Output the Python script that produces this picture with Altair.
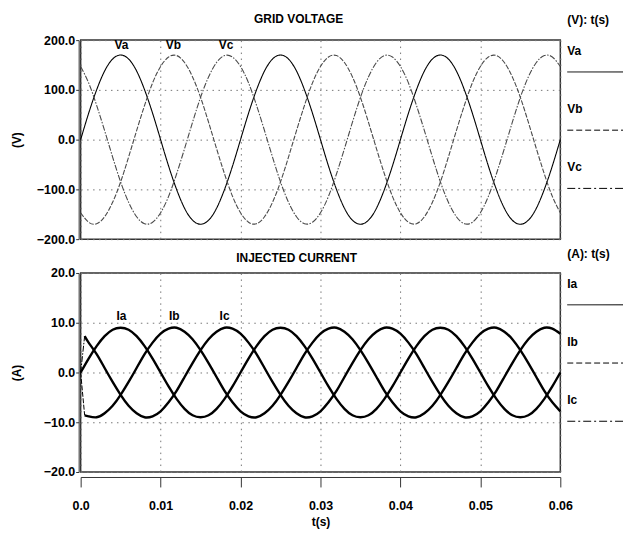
import altair as alt
import pandas as pd

FONT = "Liberation Sans"

# time axis in milliseconds (axis labels shown in seconds)
T_MS = [0, 1, 2, 3, 4, 5, 6, 7, 8, 9, 10, 11, 12, 13, 14, 15, 16, 17, 18, 19,
        20, 21, 22, 23, 24, 25, 26, 27, 28, 29, 30, 31, 32, 33, 34, 35, 36, 37, 38, 39,
        40, 41, 42, 43, 44, 45, 46, 47, 48, 49, 50, 51, 52, 53, 54, 55, 56, 57, 58, 59, 60]

VA = [0, 53, 100, 138, 162, 170, 162, 138, 100, 53, 0, -53, -100, -138, -162, -170, -162, -138, -100, -53,
      0, 53, 100, 138, 162, 170, 162, 138, 100, 53, 0, -53, -100, -138, -162, -170, -162, -138, -100, -53,
      0, 53, 100, 138, 162, 170, 162, 138, 100, 53, 0, -53, -100, -138, -162, -170, -162, -138, -100, -53, 0]
VB = [-147, -166, -169, -155, -126, -85, -35, 18, 69, 114, 147, 166, 169, 155, 126, 85, 35, -18, -69, -114,
      -147, -166, -169, -155, -126, -85, -35, 18, 69, 114, 147, 166, 169, 155, 126, 85, 35, -18, -69, -114,
      -147, -166, -169, -155, -126, -85, -35, 18, 69, 114, 147, 166, 169, 155, 126, 85, 35, -18, -69, -114, -147]
VC = [147, 114, 69, 18, -35, -85, -126, -155, -169, -166, -147, -114, -69, -18, 35, 85, 126, 155, 169, 166,
      147, 114, 69, 18, -35, -85, -126, -155, -169, -166, -147, -114, -69, -18, 35, 85, 126, 155, 169, 166,
      147, 114, 69, 18, -35, -85, -126, -155, -169, -166, -147, -114, -69, -18, 35, 85, 126, 155, 169, 166, 147]

IA = [0, 2.8, 5.3, 7.3, 8.6, 9.0, 8.6, 7.3, 5.3, 2.8, 0, -2.8, -5.3, -7.3, -8.6, -9.0, -8.6, -7.3, -5.3, -2.8,
      0, 2.8, 5.3, 7.3, 8.6, 9.0, 8.6, 7.3, 5.3, 2.8, 0, -2.8, -5.3, -7.3, -8.6, -9.0, -8.6, -7.3, -5.3, -2.8,
      0, 2.8, 5.3, 7.3, 8.6, 9.0, 8.6, 7.3, 5.3, 2.8, 0, -2.8, -5.3, -7.3, -8.6, -9.0, -8.6, -7.3, -5.3, -2.8, 0]
# Ib / Ic begin after a short start-up step
IB_T = [0.5, 1, 2, 3, 4, 5, 6, 7, 8, 9, 10, 11, 12, 13, 14, 15, 16, 17, 18, 19,
        20, 21, 22, 23, 24, 25, 26, 27, 28, 29, 30, 31, 32, 33, 34, 35, 36, 37, 38, 39,
        40, 41, 42, 43, 44, 45, 46, 47, 48, 49, 50, 51, 52, 53, 54, 55, 56, 57, 58, 59, 60]
IB = [-8.6, -8.8, -9.0, -8.2, -6.7, -4.5, -1.9, 0.9, 3.7, 6.0, 7.8, 8.8, 9.0, 8.2, 6.7, 4.5, 1.9, -0.9, -3.7, -6.0,
      -7.8, -8.8, -9.0, -8.2, -6.7, -4.5, -1.9, 0.9, 3.7, 6.0, 7.8, 8.8, 9.0, 8.2, 6.7, 4.5, 1.9, -0.9, -3.7, -6.0,
      -7.8, -8.8, -9.0, -8.2, -6.7, -4.5, -1.9, 0.9, 3.7, 6.0, 7.8, 8.8, 9.0, 8.2, 6.7, 4.5, 1.9, -0.9, -3.7, -6.0, -7.8]
IC_T = IB_T
IC = [7.3, 6.0, 3.7, 0.9, -1.9, -4.5, -6.7, -8.2, -9.0, -8.8, -7.8, -6.0, -3.7, -0.9, 1.9, 4.5, 6.7, 8.2, 9.0, 8.8,
      7.8, 6.0, 3.7, 0.9, -1.9, -4.5, -6.7, -8.2, -9.0, -8.8, -7.8, -6.0, -3.7, -0.9, 1.9, 4.5, 6.7, 8.2, 9.0, 8.8,
      7.8, 6.0, 3.7, 0.9, -1.9, -4.5, -6.7, -8.2, -9.0, -8.8, -7.8, -6.0, -3.7, -0.9, 1.9, 4.5, 6.7, 8.2, 9.0, 8.8, 7.8]
START_T = [0, 0.5]
IB_START = [0, -8.6]
IC_START = [0, 7.3]

V_NAMES = ["Va", "Vb", "Vc"]
I_NAMES = ["Ia", "Ib", "Ic"]
V_KEYS = ["LVa", "LVb", "LVc"]
I_KEYS = ["LIa", "LIb", "LIc"]
LEG_INDEX = [0, 1, 2]
V_LABEL_T = [5.1, 11.6, 18.2]
V_LABEL_V = [190, 190, 190]
I_LABEL_T = [5.1, 11.7, 18.0]
I_LABEL_V = [11.3, 11.3, 11.3]

X_TICKS = [0, 10, 20, 30, 40, 50, 60]
V_TICKS = [-200, -100, 0, 100, 200]
I_TICKS = [-20, -10, 0, 10, 20]

SOLID, DASH, DASHDOT = [1, 0], [6, 3], [8, 3, 2, 3]
FINE_DASH, FINE_DASHDOT = [5, 1.5], [6, 1.5, 1.5, 1.5]
DASH_DOMAIN = V_NAMES + I_NAMES + V_KEYS + I_KEYS
DASH_RANGE = [SOLID, FINE_DASH, FINE_DASHDOT, SOLID, FINE_DASH, FINE_DASHDOT,
              SOLID, DASH, DASHDOT, SOLID, DASH, DASHDOT]
COLOR_RANGE = ["#000000", "#4a4a4a", "#4a4a4a"]
W, H = 482, 200
LEG_X0, LEG_X1 = W + 7, W + 63
GRID_DASH = [1.5, 4.5]

volt_df = pd.DataFrame({
    "t": T_MS + T_MS + T_MS,
    "v": VA + VB + VC,
    "s": ["Va"] * len(VA) + ["Vb"] * len(VB) + ["Vc"] * len(VC),
})
cur_df = pd.DataFrame({
    "t": T_MS + IB_T + IC_T,
    "v": IA + IB + IC,
    "s": ["Ia"] * len(IA) + ["Ib"] * len(IB) + ["Ic"] * len(IC),
})
start_df = pd.DataFrame({
    "t": START_T + START_T,
    "v": IB_START + IC_START,
    "s": ["Ib"] * 2 + ["Ic"] * 2,
})
vlab_df = pd.DataFrame({"t": V_LABEL_T, "v": V_LABEL_V, "s": V_NAMES})
ilab_df = pd.DataFrame({"t": I_LABEL_T, "v": I_LABEL_V, "s": I_NAMES})

x_scale = alt.Scale(domain=[0, 60], nice=False, zero=False)
label_expr = "datum.value == 0 ? '0.0' : format(datum.value / 1000, '.2f')"

x_top = alt.X("t:Q", scale=x_scale,
              axis=alt.Axis(values=X_TICKS, labels=False, ticks=False, domain=False,
                            title=None, grid=True))
x_bot = alt.X("t:Q", scale=x_scale,
              axis=alt.Axis(values=X_TICKS, labelExpr=label_expr, title="t(s)", grid=True,
                            labelFlush=False, offset=5, tickSize=10, labelPadding=13,
                            titlePadding=4))


def y_enc(domain, ticks, title):
    return alt.Y("v:Q", scale=alt.Scale(domain=domain, nice=False, zero=False),
                 axis=alt.Axis(values=ticks, format=".1f", title=title, grid=True,
                               offset=2, tickSize=3, labelPadding=1,
                               minExtent=42, maxExtent=42, titlePadding=13))


def y_plain(domain):
    return alt.Y("v:Q", scale=alt.Scale(domain=domain, nice=False, zero=False), axis=None)


def dash_enc(field):
    return alt.StrokeDash(field + ":N", scale=alt.Scale(domain=DASH_DOMAIN, range=DASH_RANGE),
                          legend=None)


def heading(text, x, y, align):
    return alt.Chart(pd.DataFrame({"txt": [text]})).mark_text(
        align=align, baseline="middle", fontSize=12, fontWeight="bold", color="black").encode(
        x=alt.value(x), y=alt.value(y), text="txt:N")


def legend_layers(names, keys, title, title_y):
    df = pd.DataFrame({"s": names, "key": keys, "k": LEG_INDEX})
    yl = alt.Y("k:Q", scale=alt.Scale(domain=[0, 2], range=[11, 128], nice=False, zero=False),
               axis=None)
    txt = alt.Chart(df).mark_text(align="left", baseline="middle", fontSize=12,
                                  fontWeight="bold", color="black").encode(
        x=alt.value(LEG_X0), y=yl, text="s:N")
    rule = alt.Chart(df).mark_rule(color="black", strokeWidth=1, yOffset=21).encode(
        x=alt.value(LEG_X0), x2=alt.value(LEG_X1), y=yl, strokeDash=dash_enc("key"))
    return [txt, rule, heading(title, LEG_X0, title_y, "left")]


# ---- top panel: grid voltage
v_lines = alt.Chart(volt_df).mark_line(interpolate="natural", strokeWidth=1.1).encode(
    x=x_top, y=y_enc([-200, 200], V_TICKS, "(V)"),
    color=alt.Color("s:N", scale=alt.Scale(domain=V_NAMES, range=COLOR_RANGE), legend=None),
    strokeDash=dash_enc("s"), detail="s:N")
v_labels = alt.Chart(vlab_df).mark_text(fontSize=12, fontWeight="bold", color="black").encode(
    x="t:Q", y=y_plain([-200, 200]), text="s:N")
top = alt.layer(
    v_lines, v_labels, heading("GRID VOLTAGE", W / 2 - 22, -21, "center"),
    *legend_layers(V_NAMES, V_KEYS, "(V): t(s)", -20)
).resolve_scale(y="independent").properties(width=W, height=H)

# ---- bottom panel: injected current
i_lines = alt.Chart(cur_df).mark_line(interpolate="natural", color="black", strokeWidth=2.4).encode(
    x=x_bot, y=y_enc([-20, 20], I_TICKS, "(A)"), detail="s:N")
i_start = alt.Chart(start_df).mark_line(color="black", strokeWidth=1).encode(
    x="t:Q", y=y_plain([-20, 20]), strokeDash=dash_enc("s"), detail="s:N")
i_labels = alt.Chart(ilab_df).mark_text(fontSize=12, fontWeight="bold", color="black").encode(
    x="t:Q", y=y_plain([-20, 20]), text="s:N")
bot = alt.layer(
    i_lines, i_start, i_labels, heading("INJECTED CURRENT", W / 2 - 24, -15, "center"),
    *legend_layers(I_NAMES, I_KEYS, "(A): t(s)", -19)
).resolve_scale(y="independent").properties(width=W, height=H)

chart = alt.vconcat(top, bot, spacing=0).properties(
    padding={"left": 2, "top": 3, "right": 0, "bottom": 0}
).configure(font=FONT).configure_view(
    stroke="#333", strokeWidth=1.5
).configure_axis(
    labelFontSize=12.5, labelFontWeight="bold", labelColor="black",
    titleFontSize=12, titleFontWeight="bold", titleColor="black",
    domainColor="#333", domainWidth=1, tickColor="#333", tickWidth=1,
    gridColor="#777", gridDash=GRID_DASH, gridWidth=1
)

chart.save("out.html", embed_options={"renderer": "svg", "actions": False})
